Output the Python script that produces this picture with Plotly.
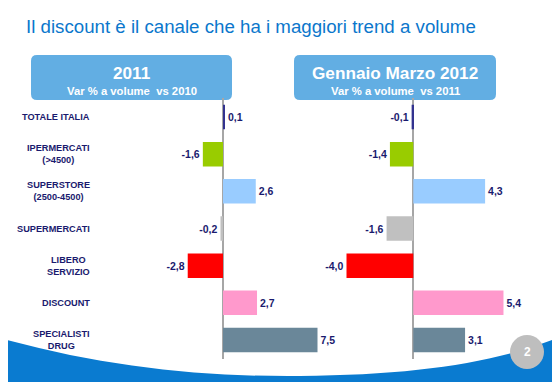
import plotly.graph_objects as go

# page body adds an 8px offset; the figure is sized to fill the remaining window
OFF = 8
W, H = 560 - OFF, 382 - OFF

# ---- data ----
categories = ["TOTALE ITALIA", "IPERMERCATI<br>(>4500)", "SUPERSTORE<br>(2500-4500)", "SUPERMERCATI",
              "LIBERO<br>SERVIZIO", "DISCOUNT", "SPECIALISTI<br>DRUG"]
values_2011 = [0.1, -1.6, 2.6, -0.2, -2.8, 2.7, 7.5]
values_q1_2012 = [-0.1, -1.4, 4.3, -1.6, -4.0, 5.4, 3.1]
bar_colors = ["#33338F", "#99CC00", "#99CCFF", "#C0C0C0", "#FF0000", "#FF99CC", "#6A8799"]

title_text = "Il discount è il canale che ha i maggiori trend a volume"
panel_titles = ["2011", "Gennaio Marzo 2012"]
panel_subtitles = ["Var % a volume  vs 2010", "Var % a volume  vs 2011"]
page_number = "2"


def px(x):
    return (x - OFF) / W


def py(y):
    return 1 - (y - OFF) / H


def fmt(v):
    return f"{v:.1f}".replace(".", ",")


NAVY = "#1A1A6E"
FONT = "Liberation Sans, Arial, sans-serif"

fig = go.Figure()

for i, vals in enumerate([values_2011, values_q1_2012]):
    fig.add_trace(go.Bar(
        x=vals, y=list(range(len(categories))), orientation="h",
        marker=dict(color=bar_colors, line=dict(width=0)),
        text=[fmt(v) for v in vals], textposition="outside",
        textfont=dict(family=FONT, size=10.5, color=NAVY, weight="bold"),
        cliponaxis=False, xaxis="x" if i == 0 else "x2", yaxis="y" if i == 0 else "y2",
        hoverinfo="skip", showlegend=False,
    ))

# axis geometry (zero position and pixel scale of each panel), in window pixels
left_zero, left_scale, left_dom = 223.0, 12.6, (150, 330)
right_zero, right_scale, right_dom = 413.3, 16.7, (340, 530)
ydom = [py(358.6), py(98.4)]


def xaxis_cfg(zero, scale, dom):
    return dict(domain=[px(dom[0]), px(dom[1])],
                range=[-(zero - dom[0]) / scale, (dom[1] - zero) / scale],
                showgrid=False, showticklabels=False, ticks="", showline=False,
                zeroline=True, zerolinecolor="#A6A6A6", zerolinewidth=1.5, fixedrange=True)


yaxis_cfg = dict(domain=ydom, range=[6.5, -0.5], showgrid=False, showticklabels=False,
                 ticks="", zeroline=False, showline=False, fixedrange=True)

shapes = []
annotations = []


def path_px(cmds):
    out = []
    for c in cmds:
        if isinstance(c, str):
            out.append(c)
        else:
            out.append(f"{px(c[0]):.5f},{py(c[1]):.5f}")
    return " ".join(out)


# bottom wave
wave = path_px(["M", (0, 338), "C", (100, 366), (200, 377), (300, 376),
                "C", (420, 375), (500, 362), (562, 336), "L", (562, 384), "L", (0, 384), "Z"])
shapes.append(dict(type="path", xref="paper", yref="paper", path=wave,
                   fillcolor="#0A7BD0", line=dict(width=0), layer="below"))


def rounded(x0, y0, x1, y1, r):
    return path_px(["M", (x0 + r, y0), "L", (x1 - r, y0), "Q", (x1, y0), (x1, y0 + r),
                    "L", (x1, y1 - r), "Q", (x1, y1), (x1 - r, y1),
                    "L", (x0 + r, y1), "Q", (x0, y1), (x0, y1 - r),
                    "L", (x0, y0 + r), "Q", (x0, y0), (x0 + r, y0), "Z"])


boxes = [(31, 55, 232, 100), (294, 55, 496, 100)]
for (x0, y0, x1, y1), t, s in zip(boxes, panel_titles, panel_subtitles):
    shapes.append(dict(type="path", xref="paper", yref="paper", path=rounded(x0, y0, x1, y1, 6),
                       fillcolor="#62AEE3", line=dict(width=0), layer="below"))
    cx = (x0 + x1) / 2
    annotations.append(dict(x=px(cx), y=py(73), xref="paper", yref="paper", text=t, showarrow=False,
                            xanchor="center", yanchor="middle",
                            font=dict(family=FONT, size=17.2, color="white", weight="bold")))
    annotations.append(dict(x=px(cx), y=py(90.5), xref="paper", yref="paper", text=s, showarrow=False,
                            xanchor="center", yanchor="middle",
                            font=dict(family=FONT, size=11.3, color="white", weight="bold")))

# page number circle
shapes.append(dict(type="circle", xref="paper", yref="paper",
                   x0=px(527 - 17), x1=px(527 + 17), y0=py(352 + 17), y1=py(352 - 17),
                   fillcolor="#BEBEBE", line=dict(width=0)))
annotations.append(dict(x=px(527), y=py(352), xref="paper", yref="paper", text=page_number,
                        showarrow=False, xanchor="center", yanchor="middle",
                        font=dict(family=FONT, size=12, color="white", weight="bold")))

# title
annotations.append(dict(x=px(24), y=py(27), xref="paper", yref="paper", text=title_text,
                        showarrow=False, xanchor="left", yanchor="middle",
                        font=dict(family=FONT, size=18.7, color="#0B77CC")))

# category labels
for i, c in enumerate(categories):
    annotations.append(dict(x=px(92), y=i, xref="paper", yref="y", text=c, showarrow=False,
                            xanchor="right", yanchor="middle", align="center",
                            font=dict(family=FONT, size=9.2, color=NAVY, weight="bold")))

fig.update_layout(
    width=W, height=H, margin=dict(l=0, r=0, t=0, b=0),
    paper_bgcolor="white", plot_bgcolor="rgba(0,0,0,0)",
    bargap=0.34,
    xaxis=xaxis_cfg(left_zero, left_scale, left_dom),
    xaxis2=xaxis_cfg(right_zero, right_scale, right_dom),
    yaxis=dict(yaxis_cfg, anchor="x"),
    yaxis2=dict(yaxis_cfg, anchor="x2"),
    shapes=shapes, annotations=annotations,
)

fig.write_html("out.html")
